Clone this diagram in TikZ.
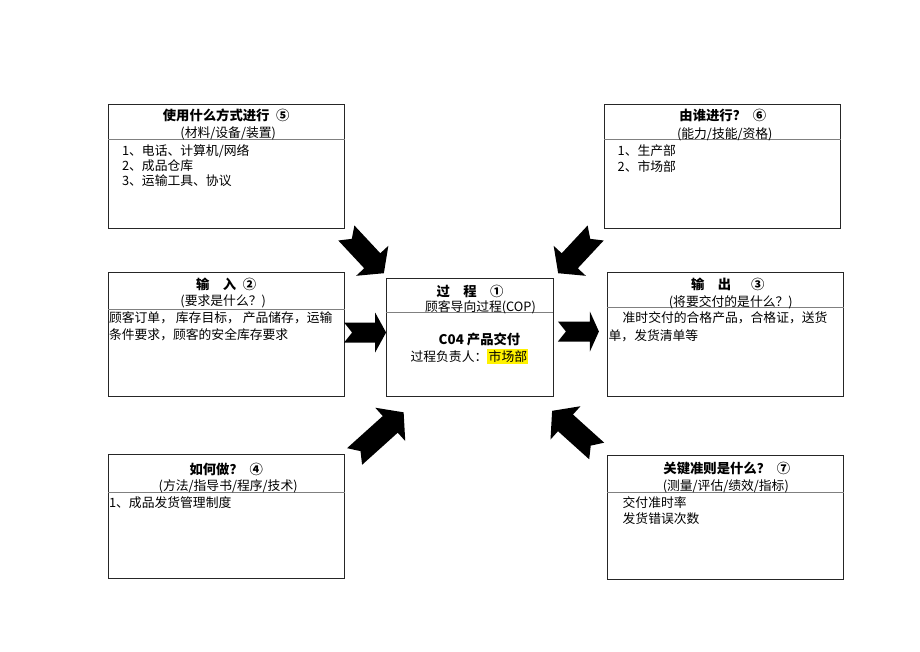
\documentclass[tikz,border=0pt]{standalone}
\usepackage{fontspec}
\setmainfont{Noto Sans CJK SC}
\XeTeXlinebreaklocale "zh"
\XeTeXlinebreakskip=0pt plus 2pt
\usetikzlibrary{positioning,calc}

\tikzstyle{panel} = [rectangle, draw=black!85, line width=0.6pt, minimum width=177pt, minimum height=93pt, inner sep=0pt]
\tikzstyle{core} = [panel, minimum width=125.25pt, minimum height=88.5pt]
\tikzstyle{sepline} = [draw=gray, line width=0.7pt]
\tikzstyle{head} = [inner sep=0pt, text height=8.4pt, text depth=1.1pt, font=\fontsize{10}{12}\selectfont\bfseries]
\tikzstyle{sub} = [inner sep=0pt, text height=8.4pt, text depth=1.1pt, font=\fontsize{9.6}{12}\selectfont]
\tikzstyle{item} = [sub, anchor=west]
\tikzset{
  pics/notch/.style 2 args={code={
    \fill[black] (-#1/2,-10) -- (#1/2-#2,-10) -- (#1/2-#2,-20) -- (#1/2,0)
      -- (#1/2-#2,20) -- (#1/2-#2,10) -- (-#1/2,10) -- (-#1/2+8,0) -- cycle;
  }}
}
\setlength{\fboxsep}{1pt}

\begin{document}
\begin{tikzpicture}[x=0.75pt, y=-0.75pt]
  \path[use as bounding box, fill=white] (0,0) rectangle (920,651);

  % the seven boxes
  \node (process) [core] at (469.5,337) {};
  \node (input) [panel, left=30.75pt of process, yshift=2.25pt] {};
  \node (tools) [panel, above=32.25pt of input] {};
  \node (how) [panel, below=43.5pt of input] {};
  \node (output) [panel, right=40.5pt of process, yshift=2.25pt] {};
  \node (who) [panel, above=32.25pt of output, xshift=-2.25pt] {};
  \node (criteria) [panel, below=44.25pt of output] {};

  \foreach \pn/\dy in {tools/36, who/36, input/38, output/36, process/35, how/38, criteria/37}
    \draw [sepline] ($(\pn.north west)+(0,\dy)$) -- ($(\pn.north east)+(0,\dy)$);

  % process
  \node (process-head) [head] at ($(process.north)+(0.5,13.7)$) {过　程　①};
  \node (process-sub) [sub] at ($(process.north)+(11,29)$) {顾客导向过程(COP)};
  \node (process-name) [head] at ($(process.north)+(10,62.5)$) {C04 产品交付};
  \node (process-owner) [sub] at ($(process.north)+(0,78.7)$) {过程负责人：\colorbox{yellow}{市场部}};

  % tools
  \node (tools-head) [head] at ($(tools.north)+(0,12)$) {使用什么方式进行\enspace⑤};
  \node (tools-sub) [sub] at ($(tools.north)+(2,29)$) {(材料/设备/装置)};
  \foreach \txt [count=\i] in {1、电话、计算机/网络, 2、成品仓库, 3、运输工具、协议}
    \node (tools-\i) [item] at ($(tools.north west)+(14,32+15*\i)$) {\txt};

  % who
  \node (who-head) [head] at ($(who.north)+(0,12)$) {由谁进行？\enspace⑥};
  \node (who-sub) [sub] at ($(who.north)+(2,30)$) {(能力/技能/资格)};
  \foreach \txt [count=\i] in {1、生产部, 2、市场部}
    \node (who-\i) [item] at ($(who.north west)+(13,31+16*\i)$) {\txt};

  % input
  \node (input-head) [head] at ($(input.north)+(0,12.7)$) {输　入\enspace②};
  \node (input-sub) [sub] at ($(input.north)+(-3,29.5)$) {(要求是什么？)};
  \node (input-1) [item] at ($(input.north west)+(1,46)$) {顾客订单， 库存目标， 产品储存，运输};
  \node (input-2) [item] at ($(input.north west)+(1,63)$) {条件要求，顾客的安全库存要求};

  % output
  \node (output-head) [head] at ($(output.north)+(2,12.7)$) {输　出　\enspace③};
  \node (output-sub) [sub] at ($(output.north)+(5,30)$) {(将要交付的是什么？)};
  \node (output-1) [item] at ($(output.north west)+(15,46)$) {\makebox[164pt][s]{准时交付的合格产品，合格证，送货}};
  \node (output-2) [item] at ($(output.north west)+(1,64)$) {单，发货清单等};

  % how
  \node (how-head) [head] at ($(how.north)+(0,15)$) {如何做？\enspace④};
  \node (how-sub) [sub] at ($(how.north)+(2,31)$) {(方法/指导书/程序/技术)};
  \node (how-1) [item] at ($(how.north west)+(1,48)$) {1、成品发货管理制度};

  % criteria
  \node (criteria-head) [head] at ($(criteria.north)+(1,13.3)$) {关键准则是什么？\enspace⑦};
  \node (criteria-sub) [sub] at ($(criteria.north)+(0,30)$) {(测量/评估/绩效/指标)};
  \foreach \txt [count=\i] in {交付准时率, 发货错误次数}
    \node (criteria-\i) [item] at ($(criteria.north west)+(15,31+16*\i)$) {\txt};

  % block arrows
  \pic [rotate=-47, yscale=1.1] at ($(tools.south east)!0.5!(process.north west)$) {notch={55}{17}};
  \pic [rotate=-133, yscale=1.1] at ($(who.south west)!0.5!(process.north east)+(-2,0)$) {notch={55}{17}};
  \pic [rotate=42, yscale=1.12] at ($(how.north east)!0.5!(process.south west)+(14,9)$) {notch={66}{18}};
  \pic [rotate=138, yscale=1.12] at ($(criteria.north west)!0.5!(process.south east)+(-6,5)$) {notch={60}{18}};
  \pic at ($(input.east)!0.5!(process.west)+(0,-3)$) {notch={42}{11}};
  \pic at ($(process.east)!0.5!(output.west)+(-2,-4)$) {notch={41}{9}};
\end{tikzpicture}
\end{document}
